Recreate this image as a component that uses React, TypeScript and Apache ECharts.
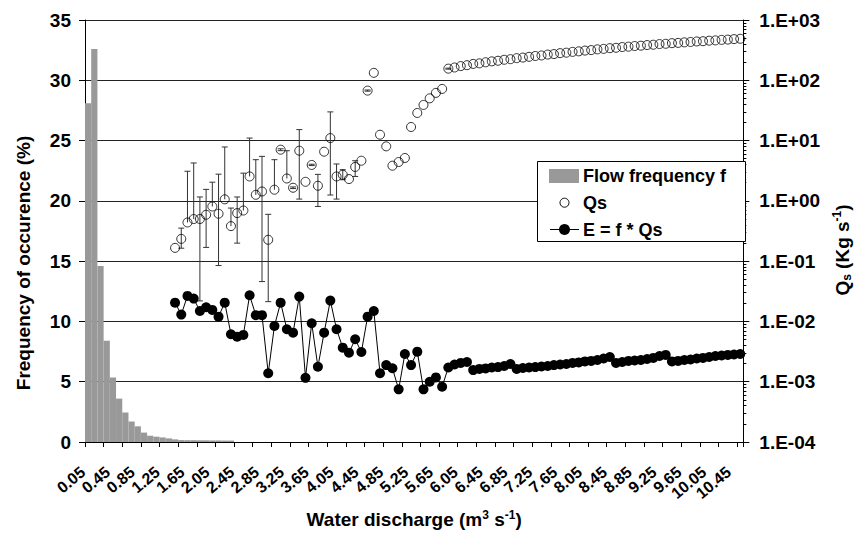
import React, { useEffect, useRef } from "react";
import * as echarts from "echarts";

const categories = [
  "0.05","0.15","0.25","0.35","0.45","0.55","0.65","0.75","0.85","0.95",
  "1.05","1.15","1.25","1.35","1.45","1.55","1.65","1.75","1.85","1.95",
  "2.05","2.15","2.25","2.35","2.45","2.55","2.65","2.75","2.85","2.95",
  "3.05","3.15","3.25","3.35","3.45","3.55","3.65","3.75","3.85","3.95",
  "4.05","4.15","4.25","4.35","4.45","4.55","4.65","4.75","4.85","4.95",
  "5.05","5.15","5.25","5.35","5.45","5.55","5.65","5.75","5.85","5.95",
  "6.05","6.15","6.25","6.35","6.45","6.55","6.65","6.75","6.85","6.95",
  "7.05","7.15","7.25","7.35","7.45","7.55","7.65","7.75","7.85","7.95",
  "8.05","8.15","8.25","8.35","8.45","8.55","8.65","8.75","8.85","8.95",
  "9.05","9.15","9.25","9.35","9.45","9.55","9.65","9.75","9.85","9.95",
  "10.05","10.15","10.25","10.35","10.45","10.55"
];

// Flow frequency f (%) for the first categories (0.05 ... 2.35); later bins are ~0
const flowFrequency = [
  28.1, 32.6, 14.6, 8.4, 5.35, 3.6, 2.45, 1.7, 1.3, 0.78,
  0.52, 0.44, 0.38, 0.3, 0.22, 0.16, 0.15, 0.15, 0.14, 0.14,
  0.13, 0.13, 0.12, 0.12
];

// Qs and E start at category index 14 (1.45)
const seriesStart = 14;

const qs = [
  0.166, 0.234, 0.438, 0.499, 0.5, 0.588, 0.807, 0.611, 1.06, 0.381,
  0.627, 0.692, 2.54, 1.26, 1.43, 0.226, 1.53, 7.06, 2.35, 1.65,
  6.79, 2.07, 3.94, 1.78, 6.54, 11.0, 2.54, 2.71, 2.3, 3.65,
  4.63, 67.4, 133, 12.5, 8.02, 3.83, 4.41, 5.14, 16.8, 28.7,
  39.0, 50.2, 61.8, 71.9,
  156, 163, 172, 178, 187, 191, 199, 206, 211, 219,
  224, 233, 238, 245, 253, 258, 267, 272, 282, 287,
  296, 302, 311, 317, 326, 332, 341, 346, 356, 361,
  370, 375, 384, 389, 399, 403, 413, 417, 426, 432,
  441, 445, 454, 459, 468, 473, 482, 488
];

const eValues = [
  0.0205, 0.013, 0.0265, 0.0239, 0.0149, 0.0172, 0.0155, 0.012, 0.0205, 0.00612,
  0.00558, 0.00597, 0.0272, 0.0127, 0.0127, 0.00138, 0.00841, 0.0205, 0.00741, 0.00651,
  0.0258, 0.00116, 0.00933, 0.00177, 0.00651, 0.0222, 0.00741, 0.00367, 0.00303, 0.00506,
  0.00311, 0.012, 0.0149, 0.00138, 0.00189, 0.00167, 0.000748, 0.00288, 0.00189, 0.00315,
  0.000748, 0.001, 0.00118, 0.000826,
  0.00172, 0.00193, 0.00205, 0.00212, 0.00156, 0.00163, 0.00166, 0.00172, 0.00175, 0.00182,
  0.00197, 0.00163, 0.00169, 0.00172, 0.00175, 0.00179, 0.00182, 0.00189, 0.00193, 0.00197,
  0.00205, 0.00209, 0.00217, 0.00221, 0.00229, 0.00243, 0.00257, 0.00205, 0.00212, 0.00221,
  0.00225, 0.00229, 0.00238, 0.00248, 0.00267, 0.00278, 0.00217, 0.00221, 0.00229, 0.00234,
  0.00243, 0.00248, 0.00257, 0.00267, 0.00272, 0.00278, 0.00283, 0.00288
];

// Error bars on Qs: [category index, upper end, lower end (null = none)]
const qsErrors: [number, number, number | null][] = [
  [15, 0.353, 0.164], [16, 3.1, null], [17, 4.25, null], [18, 1.16, 0.0219],
  [19, 1.55, 0.169], [20, 2.04, null], [21, 2.77, 0.0845], [22, 7.83, null],
  [23, 0.759, null], [24, 1.16, 0.199], [25, 2.88, null], [26, 11.0, null],
  [27, 4.82, null], [28, 5.47, 0.0458], [29, 0.598, 0.0213], [30, 4.82, null],
  [31, 7.3, 6.8], [32, 6.79, null], [33, 1.7, 1.6], [34, 15.2, 1.07],
  [36, 4.05, 3.85], [37, 2.75, 0.807], [39, 29.9, 1.25], [40, 4.09, 1.07],
  [41, 3.29, 2.24], [43, 4.63, 2.54], [45, 69, 66], [58, 159, 153]
];

const leftTicks = { min: 0, max: 35, interval: 5 };
const rightRange = { min: 1e-4, max: 1e3 };

const FONT = "'Liberation Sans', Arial, sans-serif";

function pad(arr: number[], start: number, total: number): (number | null)[] {
  const out: (number | null)[] = [];
  for (let i = 0; i < total; i++) {
    const k = i - start;
    out.push(k >= 0 && k < arr.length ? arr[k] : null);
  }
  return out;
}

function expLabel(v: number): string {
  const e = Math.round(Math.log10(v));
  const s = e >= 0 ? "+" : "-";
  const a = Math.abs(e);
  return "1.E" + s + (a < 10 ? "0" + a : "" + a);
}

export default function App() {
  const ref = useRef<HTMLDivElement>(null);

  useEffect(() => {
    if (!ref.current) return;
    const chart = echarts.init(ref.current, undefined, { renderer: "svg" });
    const n = categories.length;
    const barData = pad(flowFrequency, 0, n);
    const qsData = pad(qs, seriesStart, n);
    const eData = pad(eValues, seriesStart, n);
    const errData = qsErrors.map(([i, hi, lo]) => [
      i,
      qs[i - seriesStart],
      hi,
      lo == null ? qs[i - seriesStart] : lo,
      lo == null ? 0 : 1,
    ]);

    const option: any = {
      animation: false,
      textStyle: { fontFamily: FONT },
      grid: { left: 85, right: 101, top: 20, bottom: 94 },
      xAxis: {
        type: "category",
        data: categories,
        boundaryGap: true,
        axisLine: { show: true, lineStyle: { color: "#000", width: 1 } },
        axisTick: { show: true, interval: 2, length: 5, lineStyle: { color: "#000" } },
        axisLabel: {
          interval: 3,
          rotate: 40,
          fontSize: 16,
          fontWeight: "bold",
          fontFamily: FONT,
          color: "#000",
          margin: 34,
          verticalAlign: "bottom",
          showMinLabel: true,
        },
        name: "Water discharge (m{sup|3} s{sup|-1})",
        nameLocation: "middle",
        nameGap: 62,
        nameTextStyle: {
          fontSize: 19,
          fontWeight: "bold",
          fontFamily: FONT,
          color: "#000",
          lineHeight: 22,
          rich: {
            sup: { fontSize: 12, fontWeight: "bold", fontFamily: FONT, verticalAlign: "top", lineHeight: 22, padding: [0, 0, 8, 0] },
          },
        },
      },
      yAxis: [
        {
          type: "value",
          min: leftTicks.min,
          max: leftTicks.max,
          interval: leftTicks.interval,
          axisLine: { show: true, lineStyle: { color: "#000", width: 1 } },
          axisTick: { show: true, length: 6, lineStyle: { color: "#000" } },
          axisLabel: { fontSize: 19, fontWeight: "bold", fontFamily: FONT, color: "#000", margin: 14 },
          splitLine: { show: true, lineStyle: { color: "#222", width: 1 } },
          name: "Frequency of occurence (%)",
          nameLocation: "middle",
          nameRotate: 90,
          nameGap: 52,
          nameTextStyle: {
            fontSize: 19,
            fontWeight: "bold",
            fontFamily: FONT,
            color: "#000",
            padding: [0, 64, 0, 0],
          },
        },
        {
          type: "log",
          logBase: 10,
          min: rightRange.min,
          max: rightRange.max,
          splitNumber: 7,
          position: "right",
          axisLine: { show: true, lineStyle: { color: "#000", width: 1 } },
          axisTick: { show: true, length: 6, lineStyle: { color: "#000" } },
          minorTick: { show: true, splitNumber: 9, length: 3, lineStyle: { color: "#000" } },
          axisLabel: {
            fontSize: 19,
            fontWeight: "bold",
            fontFamily: FONT,
            color: "#000",
            margin: 16,
            formatter: (v: number) => expLabel(v),
          },
          splitLine: { show: false },
          name: "Q{sub|s} (Kg s{sup|-1})",
          nameLocation: "middle",
          nameRotate: 90,
          nameGap: 85,
          nameTextStyle: {
            fontSize: 19,
            fontWeight: "bold",
            fontFamily: FONT,
            color: "#000",
            lineHeight: 22,
            padding: [0, 38, 0, 0],
            rich: {
              sub: { fontSize: 12, fontWeight: "bold", fontFamily: FONT, verticalAlign: "bottom", lineHeight: 22 },
              sup: { fontSize: 12, fontWeight: "bold", fontFamily: FONT, verticalAlign: "top", lineHeight: 22, padding: [0, 0, 8, 0] },
            },
          },
        },
      ],
      series: [
        {
          name: "Flow frequency f",
          type: "bar",
          data: barData,
          barCategoryGap: "0%",
          barGap: "0%",
          itemStyle: { color: "#999999" },
          z: 1,
        },
        {
          name: "Qs error",
          type: "custom",
          yAxisIndex: 1,
          data: errData,
          encode: { x: 0, y: [2, 3] },
          z: 3,
          renderItem: (params: any, api: any) => {
            const x = api.value(0);
            const top = api.coord([x, api.value(2)]);
            const bot = api.coord([x, api.value(3)]);
            const hasLow = api.value(4) === 1;
            const hw = 3;
            const st = { stroke: "#333", lineWidth: 1 };
            const children: any[] = [
              { type: "line", shape: { x1: top[0], y1: top[1], x2: bot[0], y2: bot[1] }, style: st },
              { type: "line", shape: { x1: top[0] - hw, y1: top[1], x2: top[0] + hw, y2: top[1] }, style: st },
            ];
            if (hasLow) {
              children.push({ type: "line", shape: { x1: bot[0] - hw, y1: bot[1], x2: bot[0] + hw, y2: bot[1] }, style: st });
            }
            return { type: "group", children };
          },
        },
        {
          name: "Qs",
          type: "scatter",
          yAxisIndex: 1,
          data: qsData,
          symbol: "circle",
          symbolSize: 9,
          itemStyle: { color: "rgba(255,255,255,0)", borderColor: "#000", borderWidth: 1 },
          z: 4,
        },
        {
          name: "E = f * Qs",
          type: "line",
          yAxisIndex: 1,
          data: eData,
          symbol: "circle",
          symbolSize: 10,
          showAllSymbol: true,
          connectNulls: false,
          lineStyle: { color: "#000", width: 1 },
          itemStyle: { color: "#000" },
          z: 5,
        },
      ],
      graphic: [
        {
          type: "rect",
          z: 100,
          shape: { x: 537.5, y: 161.5, width: 208, height: 80 },
          style: { fill: "#fff", stroke: "#000", lineWidth: 1 },
        },
        {
          type: "rect",
          z: 101,
          shape: { x: 549, y: 169, width: 30, height: 14 },
          style: { fill: "#999999" },
        },
        {
          type: "text",
          z: 101,
          x: 583,
          y: 176,
          style: { text: "Flow frequency f", fontSize: 18, fontWeight: "bold", fontFamily: FONT, fill: "#000", verticalAlign: "middle" },
        },
        {
          type: "circle",
          z: 101,
          shape: { cx: 564.5, cy: 202.7, r: 4.5 },
          style: { fill: "none", stroke: "#000", lineWidth: 1 },
        },
        {
          type: "text",
          z: 101,
          x: 583,
          y: 203,
          style: { text: "Qs", fontSize: 18, fontWeight: "bold", fontFamily: FONT, fill: "#000", verticalAlign: "middle" },
        },
        {
          type: "line",
          z: 101,
          shape: { x1: 550, y1: 229.5, x2: 579, y2: 229.5 },
          style: { stroke: "#000", lineWidth: 1 },
        },
        {
          type: "circle",
          z: 102,
          shape: { cx: 564.5, cy: 229.5, r: 5.5 },
          style: { fill: "#000" },
        },
        {
          type: "text",
          z: 101,
          x: 583,
          y: 230,
          style: { text: "E = f * Qs", fontSize: 18, fontWeight: "bold", fontFamily: FONT, fill: "#000", verticalAlign: "middle" },
        },
      ],
    };

    chart.setOption(option);
    return () => {
      chart.dispose();
    };
  }, []);

  return (
    <div
      ref={ref}
      style={{ position: "fixed", left: 0, top: 0, width: 861, height: 536, background: "#fff" }}
    />
  );
}
